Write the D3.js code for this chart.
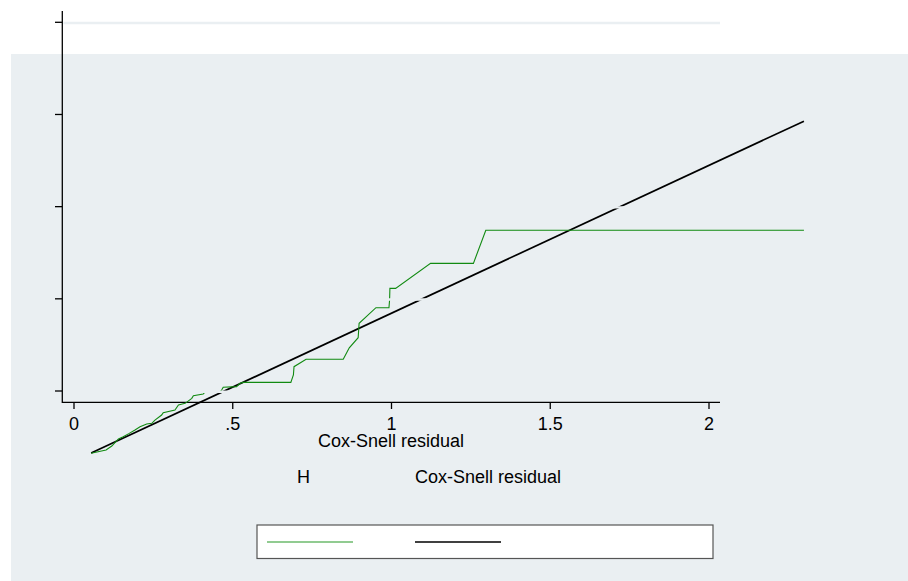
<!DOCTYPE html>
<html><head><meta charset="utf-8">
<script src="https://cdn.jsdelivr.net/npm/d3@7"></script>
<style>body{margin:0;background:#fff}svg{display:block}</style>
</head><body>
<svg id="c" width="908" height="581"></svg>
<script>
// ---- data ----
const xTicks = [0, 0.5, 1, 1.5, 2];
const xTickLabels = ["0", ".5", "1", "1.5", "2"];
const yTicks = [0, 0.5, 1, 1.5, 2];
// Nelson-Aalen cumulative hazard of Cox-Snell residuals
const csResidual = [0.054,0.101,0.119,0.140,0.155,0.174,0.192,0.208,0.229,0.245,0.255,0.276,0.281,0.318,0.329,0.350,0.371,0.376,0.407,0.413,0.460,0.465,0.470,0.512,0.523,0.533,0.683,0.691,0.693,0.731,0.848,0.867,0.895,0.898,0.951,0.992,0.994,0.995,1.013,1.123,1.258,1.297,2.299];
const cumHazard  = [0.052,0.074,0.101,0.149,0.164,0.187,0.210,0.232,0.250,0.255,0.277,0.311,0.327,0.345,0.379,0.390,0.424,0.442,0.453,0.468,0.468,0.480,0.499,0.503,0.526,0.532,0.532,0.582,0.638,0.688,0.688,0.766,0.834,0.931,1.037,1.037,1.089,1.168,1.168,1.337,1.337,1.561,1.561];
// 45-degree reference line
const refX = [0.054, 2.299];
const refY = [0.054, 2.299];
const xTitle = "Cox-Snell residual";
const strayLabels = ["H", "Cox-Snell residual"];

// ---- drawing ----
const svg = d3.select("#c");
const font = "'Liberation Sans', Arial, Helvetica, sans-serif";
const bg = "#eaeff2";

svg.append("rect").attr("x", 11).attr("y", 54).attr("width", 897).attr("height", 527).attr("fill", bg);

// axis scales
const xA = d3.scaleLinear().domain([0, 2]).range([74, 709]);
const yA = d3.scaleLinear().domain([0, 2]).range([391, 22.3]);
// data-layer scales (misplaced plot layer)
const xL = d3.scaleLinear().domain([0, 2]).range([74, 709]);
const yL = d3.scaleLinear().domain([0, 2.3]).range([461, 121]);

// axes lines
svg.append("line").attr("x1", 62.3).attr("x2", 62.3).attr("y1", 11).attr("y2", 403)
  .attr("stroke", "#000").attr("stroke-width", 1.3);
svg.append("line").attr("x1", 62).attr("x2", 720).attr("y1", 402.3).attr("y2", 402.3)
  .attr("stroke", "#000").attr("stroke-width", 1.3);

// y ticks (no labels)
svg.selectAll(".yt").data(yTicks).enter().append("line")
  .attr("x1", 55).attr("x2", 62).attr("y1", d => yA(d)).attr("y2", d => yA(d))
  .attr("stroke", "#000").attr("stroke-width", 1.3);

// x ticks + labels
svg.selectAll(".xt").data(xTicks).enter().append("line")
  .attr("x1", d => xA(d)).attr("x2", d => xA(d)).attr("y1", 402).attr("y2", 409)
  .attr("stroke", "#000").attr("stroke-width", 1.3);
svg.selectAll(".xl").data(xTicks).enter().append("text")
  .attr("x", d => xA(d)).attr("y", 430).attr("text-anchor", "middle")
  .attr("font-family", font).attr("font-size", 18).attr("fill", "#000")
  .text((d, i) => xTickLabels[i]);

// reference line
const line = d3.line().x(d => xL(d[0])).y(d => yL(d[1]));
svg.append("path").attr("d", line(refX.map((x, i) => [x, refY[i]])))
  .attr("fill", "none").attr("stroke", "#000").attr("stroke-width", 1.7);
// cumulative hazard
svg.append("path").attr("d", line(csResidual.map((x, i) => [x, cumHazard[i]])))
  .attr("fill", "none").attr("stroke", "#118a11").attr("stroke-width", 1.1);

// gridlines drawn over data in background colour
svg.selectAll(".gl").data(yTicks).enter().append("line")
  .attr("x1", 63.5).attr("x2", 720).attr("y1", d => yA(d) + 0.7).attr("y2", d => yA(d) + 0.7)
  .attr("stroke", bg).attr("stroke-width", 2.4);

// titles
svg.append("text").attr("x", 391).attr("y", 446.7).attr("text-anchor", "middle")
  .attr("font-family", font).attr("font-size", 18).text(xTitle);
svg.append("text").attr("x", 297).attr("y", 483.3)
  .attr("font-family", font).attr("font-size", 18).text(strayLabels[0]);
svg.append("text").attr("x", 415).attr("y", 483.3)
  .attr("font-family", font).attr("font-size", 18).text(strayLabels[1]);

// legend
svg.append("rect").attr("x", 257).attr("y", 525).attr("width", 456).attr("height", 33.5)
  .attr("fill", "#fff").attr("stroke", "#555").attr("stroke-width", 1.2);
const legKeys = [{c: "#6cba6c", x: 267, w: 1.6}, {c: "#000", x: 415, w: 1.7}];
svg.selectAll(".lk").data(legKeys).enter().append("line")
  .attr("x1", d => d.x).attr("x2", d => d.x + 86).attr("y1", 542).attr("y2", 542)
  .attr("stroke", d => d.c).attr("stroke-width", d => d.w);
</script>
</body></html>
